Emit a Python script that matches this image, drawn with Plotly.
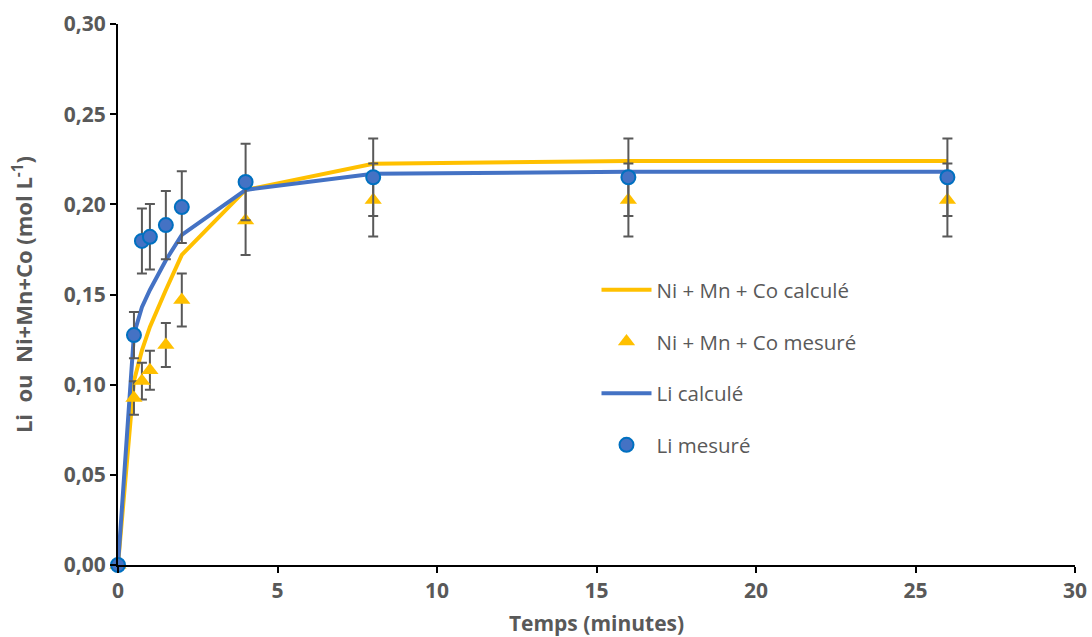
import plotly.graph_objects as go

# temps en minutes
temps = [0, 0.5, 0.75, 1, 1.5, 2, 4, 8, 16, 26]

li_mesure = [0.0, 0.1275, 0.1797, 0.182, 0.1885, 0.1985, 0.2124, 0.215, 0.215, 0.215]
li_erreur = [0.0, 0.0128, 0.018, 0.0182, 0.0189, 0.0199, 0.0212, 0.0215, 0.0215, 0.0215]
li_calcule = [0.0, 0.128, 0.143, 0.1525, 0.169, 0.183, 0.208, 0.217, 0.218, 0.218]

nmc_mesure = [0.0, 0.0926, 0.102, 0.108, 0.122, 0.147, 0.191, 0.2024, 0.2024, 0.2024]
nmc_erreur = [0.0, 0.0093, 0.0102, 0.0108, 0.0122, 0.0147, 0.0191, 0.0202, 0.0202, 0.0202]
nmc_calcule = [0.0, 0.102, 0.119, 0.132, 0.1525, 0.172, 0.208, 0.2225, 0.224, 0.224]

gris = "#595959"
jaune = "#FFC000"
bleu = "#4472C4"

fig = go.Figure()

fig.add_trace(go.Scatter(
    x=temps, y=nmc_calcule, mode="lines", name="Ni + Mn + Co calculé",
    line=dict(color=jaune, width=4), legendrank=1, legendgroup="a",
))
fig.add_trace(go.Scatter(
    x=temps, y=li_calcule, mode="lines", name="Li calculé",
    line=dict(color=bleu, width=4), legendrank=3, legendgroup="c",
))
fig.add_trace(go.Scatter(
    x=temps, y=nmc_mesure, mode="markers", name="Ni + Mn + Co mesuré",
    marker=dict(symbol="triangle-up", size=15, color=jaune),
    error_y=dict(type="data", array=nmc_erreur, color=gris, thickness=2, width=5),
    legendrank=2, legendgroup="b", cliponaxis=False,
))
fig.add_trace(go.Scatter(
    x=temps, y=li_mesure, mode="markers", name="Li mesuré",
    marker=dict(symbol="circle", size=14, color=bleu, line=dict(color="#0070C0", width=2)),
    error_y=dict(type="data", array=li_erreur, color=gris, thickness=2, width=5),
    legendrank=4, legendgroup="d", cliponaxis=False,
))

axe = dict(
    showgrid=False, zeroline=False, showline=True, linecolor="black", linewidth=2,
    ticks="outside", ticklen=6, tickcolor="black", tickwidth=2, automargin=False,
    tickfont=dict(family="Open Sans", size=21, color=gris, weight="bold"),
)

fig.update_layout(
    width=1092, height=637,
    margin=dict(l=118, r=17, t=24, b=72),
    plot_bgcolor="white", paper_bgcolor="white",
    separators=", ",
    showlegend=True,
    legend=dict(
        x=0.5, y=0.365, xanchor="left", yanchor="middle",
        font=dict(family="Open Sans", size=20.5, color=gris),
        tracegroupgap=22, bgcolor="rgba(0,0,0,0)", itemwidth=50,
    ),
    xaxis=dict(
        axe, range=[0, 30], dtick=5, tickformat="d",
        title=dict(text="Temps (minutes)", standoff=14,
                   font=dict(family="Open Sans", size=21, color=gris, weight="bold")),
    ),
    yaxis=dict(
        axe, range=[0, 0.30], dtick=0.05, tickformat=".2f",
        title=dict(text="Li  ou  Ni+Mn+Co (mol L<sup>-1</sup>)", standoff=25,
                   font=dict(family="Open Sans", size=22, color=gris, weight="bold")),
    ),
)

fig.write_html("out.html", config={"displayModeBar": False},
               post_script="document.body.style.margin='0';")
